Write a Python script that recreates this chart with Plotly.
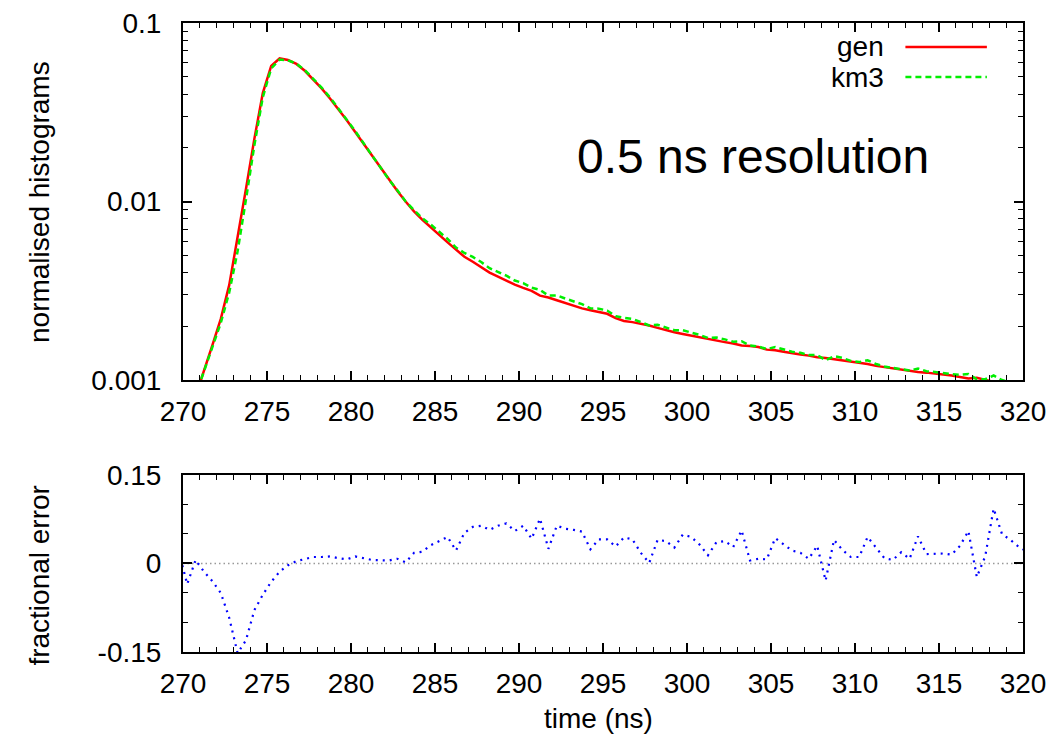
"""Timing histograms (gen vs km3) at 0.5 ns resolution, with fractional error panel."""

import plotly.graph_objects as go

# bin centres (ns)
time_ns = [
    269.75, 270.25, 270.75, 271.25, 271.75, 272.25, 272.75, 273.25, 273.75, 274.25,
    274.75, 275.25, 275.75, 276.25, 276.75, 277.25, 277.75, 278.25, 278.75, 279.25,
    279.75, 280.25, 280.75, 281.25, 281.75, 282.25, 282.75, 283.25, 283.75, 284.25,
    284.75, 285.25, 285.75, 286.25, 286.75, 287.25, 287.75, 288.25, 288.75, 289.25,
    289.75, 290.25, 290.75, 291.25, 291.75, 292.25, 292.75, 293.25, 293.75, 294.25,
    294.75, 295.25, 295.75, 296.25, 296.75, 297.25, 297.75, 298.25, 298.75, 299.25,
    299.75, 300.25, 300.75, 301.25, 301.75, 302.25, 302.75, 303.25, 303.75, 304.25,
    304.75, 305.25, 305.75, 306.25, 306.75, 307.25, 307.75, 308.25, 308.75, 309.25,
    309.75, 310.25, 310.75, 311.25, 311.75, 312.25, 312.75, 313.25, 313.75, 314.25,
    314.75, 315.25, 315.75, 316.25, 316.75, 317.25, 317.75, 318.25, 318.75, 319.25,
    319.75, 320.25,
]

gen = [
    0.00042, 0.00059, 0.00082, 0.00113, 0.00157, 0.00220, 0.00340, 0.00620, 0.0118, 0.0225,
    0.0405, 0.0575, 0.0633, 0.0620, 0.0590, 0.0540, 0.0482, 0.0430, 0.0378, 0.0330,
    0.0285, 0.0245, 0.0210, 0.0180, 0.0155, 0.0132, 0.0115, 0.0100, 0.0088, 0.0079,
    0.0072, 0.0065, 0.0059, 0.0054, 0.0049, 0.0046, 0.0043, 0.0040, 0.0038, 0.0036,
    0.00342, 0.00328, 0.00316, 0.00297, 0.00290, 0.00280, 0.00270, 0.00260, 0.00252, 0.00246,
    0.00241, 0.00235, 0.00222, 0.00214, 0.00211, 0.00207, 0.00202, 0.00196, 0.00190, 0.00185,
    0.00181, 0.00177, 0.00173, 0.00170, 0.00167, 0.00163, 0.00160, 0.00156, 0.00155, 0.00153,
    0.00148, 0.00147, 0.00144, 0.00141, 0.00139, 0.00137, 0.00134, 0.00133, 0.00131, 0.00130,
    0.00127, 0.00125, 0.00123, 0.00120, 0.00118, 0.00116, 0.00114, 0.00112, 0.00111, 0.00110,
    0.00109, 0.00107, 0.00106, 0.00104, 0.00102, 0.00103, 0.00100, 0.00097, 0.00095, 0.00093,
    0.00091, 0.00089,
]

km3 = [
    0.00043, 0.00057, 0.00082, 0.00111, 0.00152, 0.00209, 0.00309, 0.00526, 0.0103, 0.0207,
    0.0384, 0.0557, 0.0624, 0.0618, 0.0592, 0.0544, 0.0487, 0.0435, 0.0383, 0.0333,
    0.0287, 0.0248, 0.0212, 0.0181, 0.0156, 0.0133, 0.0116, 0.0100, 0.00896, 0.00806,
    0.00742, 0.00675, 0.00617, 0.00552, 0.00515, 0.00489, 0.00458, 0.00423, 0.00404, 0.00384,
    0.00361, 0.00349, 0.00329, 0.00320, 0.00297, 0.00298, 0.00286, 0.00275, 0.00266, 0.00252,
    0.00251, 0.00245, 0.00228, 0.00223, 0.00220, 0.00211, 0.00202, 0.00204, 0.00197, 0.00190,
    0.00190, 0.00185, 0.00179, 0.00172, 0.00173, 0.00169, 0.00164, 0.00165, 0.00156, 0.00154,
    0.00149, 0.00153, 0.00149, 0.00144, 0.00142, 0.00138, 0.00138, 0.00129, 0.00136, 0.00133,
    0.00128, 0.00126, 0.00129, 0.00123, 0.00119, 0.00117, 0.00116, 0.00113, 0.00116, 0.00112,
    0.00111, 0.00109, 0.00108, 0.00107, 0.00108, 0.00101, 0.00101, 0.00106, 0.00100, 0.00097,
    0.00094, 0.00091,
]

frac_err = [
    0.020, -0.035, 0.006, -0.014, -0.030, -0.050, -0.092, -0.152, -0.130, -0.079,
    -0.053, -0.031, -0.014, -0.003, 0.004, 0.008, 0.011, 0.011, 0.012, 0.009,
    0.007, 0.012, 0.009, 0.006, 0.0055, 0.005, 0.008, 0.002, 0.018, 0.020,
    0.031, 0.038, 0.045, 0.022, 0.052, 0.062, 0.064, 0.057, 0.064, 0.068,
    0.055, 0.064, 0.042, 0.076, 0.025, 0.064, 0.059, 0.057, 0.054, 0.024,
    0.041, 0.041, 0.029, 0.044, 0.041, 0.018, 0.001, 0.040, 0.038, 0.027,
    0.049, 0.045, 0.032, 0.014, 0.036, 0.038, 0.028, 0.056, 0.005, 0.008,
    0.007, 0.043, 0.032, 0.022, 0.018, 0.008, 0.030, -0.029, 0.040, 0.023,
    0.011, 0.011, 0.045, 0.027, 0.009, 0.006, 0.019, 0.008, 0.046, 0.016,
    0.016, 0.017, 0.015, 0.030, 0.055, -0.023, 0.012, 0.093, 0.050, 0.040,
    0.028, 0.020,
]

x_ticks = [270, 275, 280, 285, 290, 295, 300, 305, 310, 315, 320]
hist_ticks = [0.001, 0.01, 0.1]
hist_tick_text = ["0.001", "0.01", "0.1"]
err_ticks = [-0.15, 0, 0.15]
err_tick_text = ["-0.15", "0", "0.15"]

FONT = "Liberation Sans, Arial, Helvetica, sans-serif"
RED = "#ff0000"
GREEN = "#00ee00"
BLUE = "#0000ff"

fig = go.Figure()

fig.add_trace(go.Scatter(x=time_ns, y=gen, mode="lines", name="gen",
                         line=dict(color=RED, width=2.5), xaxis="x", yaxis="y"))
fig.add_trace(go.Scatter(x=time_ns, y=km3, mode="lines", name="km3",
                         line=dict(color=GREEN, width=2.5, dash="6px,4px"), xaxis="x", yaxis="y"))
fig.add_trace(go.Scatter(x=time_ns, y=frac_err, mode="lines", name="error",
                         line=dict(color=BLUE, width=2.2, dash="2px,5px"), xaxis="x2", yaxis="y2"))

frame = dict(showline=True, linecolor="black", linewidth=2, mirror="allticks",
             showgrid=False, zeroline=False, ticks="inside", ticklen=9, tickwidth=1.5,
             tickcolor="black", ticklabeloverflow="allow",
             tickfont=dict(family=FONT, size=28, color="black"))

xcommon = dict(range=[270, 320], tickvals=x_ticks, ticklabelstandoff=5,
               minor=dict(dtick=1, tick0=270, ticks="inside", ticklen=5, tickwidth=1.2,
                          tickcolor="black", showgrid=False))

# the page body adds an 8 px offset, so the figure is 8 px smaller than the window
fig.update_layout(
    width=1047,
    height=733,
    paper_bgcolor="white",
    plot_bgcolor="white",
    showlegend=False,
    margin=dict(l=175, r=32, t=15, b=89, autoexpand=False),
    font=dict(family=FONT, size=28, color="black"),
    xaxis=dict(**frame, **xcommon, anchor="y", domain=[0, 1]),
    yaxis=dict(**frame, type="log", range=[-3, -1], tickvals=hist_ticks,
               ticktext=hist_tick_text, anchor="x", domain=[0.4324, 1],
               ticklabelstandoff=14,
               minor=dict(dtick="D1", ticks="inside", ticklen=5, tickwidth=1.2,
                          tickcolor="black", showgrid=False)),
    xaxis2=dict(**frame, **xcommon, anchor="y2", domain=[0, 1]),
    yaxis2=dict(**frame, range=[-0.15, 0.15], tickvals=err_ticks,
                ticktext=err_tick_text, anchor="x2", domain=[0, 0.2814],
                ticklabelstandoff=14,
                minor=dict(dtick=0.05, tick0=0, ticks="inside", ticklen=5, tickwidth=1.2,
                           tickcolor="black", showgrid=False)),
)

# grey dotted zero line in the error panel
fig.add_shape(type="line", xref="x2 domain", yref="y2", x0=0, x1=1, y0=0, y1=0,
              line=dict(color="#999999", width=1.5, dash="1.5px,3px"), layer="below")

# gnuplot-style key: label on the left, line sample on the right
for label, color, dash, ky in [("gen", RED, "solid", 0.962), ("km3", GREEN, "6px,4px", 0.914)]:
    fig.add_annotation(text=label, xref="paper", yref="paper", x=0.837, y=ky,
                       xanchor="right", yanchor="middle", showarrow=False,
                       font=dict(family=FONT, size=28, color="black"))
    fig.add_shape(type="line", xref="paper", yref="paper", x0=0.860, x1=0.957, y0=ky, y1=ky,
                  line=dict(color=color, width=2.5, dash=dash))

fig.add_annotation(text="0.5 ns resolution", xref="paper", yref="paper", x=0.679, y=0.787,
                   xanchor="center", yanchor="middle", showarrow=False,
                   font=dict(family=FONT, size=48, color="black"))

# axis titles
fig.add_annotation(text="normalised histograms", xref="paper", yref="paper", x=-0.171, y=0.716,
                   textangle=-90, xanchor="center", yanchor="middle", showarrow=False,
                   font=dict(family=FONT, size=28, color="black"))
fig.add_annotation(text="fractional error", xref="paper", yref="paper", x=-0.171, y=0.122,
                   textangle=-90, xanchor="center", yanchor="middle", showarrow=False,
                   font=dict(family=FONT, size=28, color="black"))
fig.add_annotation(text="time (ns)", xref="paper", yref="paper", x=0.495, y=-0.105,
                   xanchor="center", yanchor="middle", showarrow=False,
                   font=dict(family=FONT, size=28, color="black"))

fig.write_html("out.html")
